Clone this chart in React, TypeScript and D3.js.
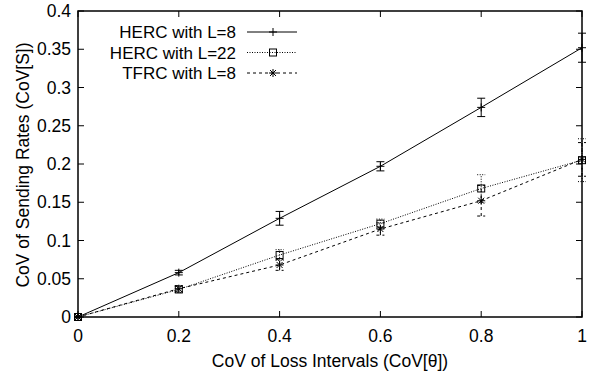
import { useRef, useEffect } from 'react';
import * as d3 from 'd3';

const xValues = [0, 0.2, 0.4, 0.6, 0.8, 1];
const hercL8 = [0, 0.058, 0.129, 0.197, 0.274, 0.352];
const hercL8Err = [0.001, 0.003, 0.009, 0.006, 0.012, 0.019];
const hercL22 = [0, 0.036, 0.081, 0.122, 0.168, 0.205];
const hercL22Err = [0.001, 0.004, 0.007, 0.006, 0.018, 0.028];
const tfrcL8 = [0, 0.037, 0.068, 0.115, 0.152, 0.206];
const tfrcL8Err = [0.001, 0.004, 0.007, 0.008, 0.02, 0.022];
const seriesNames = ['HERC with L=8', 'HERC with L=22', 'TFRC with L=8'];
const xTicks = [0, 0.2, 0.4, 0.6, 0.8, 1];
const yTicks = [0, 0.05, 0.1, 0.15, 0.2, 0.25, 0.3, 0.35, 0.4];

type Marker = 'plus' | 'square' | 'star';

export default function App() {
    const svgRef = useRef<SVGSVGElement>(null);

    useEffect(() => {
        if (!svgRef.current) return;
        const width = 597;
        const height = 378;
        const left = 78, right = 582, top = 11, bottom = 317;

        d3.select(svgRef.current).selectAll('*').remove();
        const svg = d3.select(svgRef.current)
            .attr('width', width)
            .attr('height', height)
            .style('font-family', '"Liberation Sans", Arial, sans-serif');

        svg.append('rect').attr('width', width).attr('height', height).attr('fill', '#fff');

        const x = d3.scaleLinear().domain([0, 1]).range([left, right]);
        const y = d3.scaleLinear().domain([0, 0.4]).range([bottom, top]);

        const fmt = (v: number) => (v === 0 ? '0' : String(+v.toFixed(2)));

        // ticks (inward, mirrored)
        const ticks = svg.append('g').attr('stroke', '#000').attr('stroke-width', 1);
        xTicks.forEach(t => {
            ticks.append('line').attr('x1', x(t)).attr('x2', x(t)).attr('y1', bottom).attr('y2', bottom - 6);
            ticks.append('line').attr('x1', x(t)).attr('x2', x(t)).attr('y1', top).attr('y2', top + 6);
            svg.append('text').attr('x', x(t)).attr('y', bottom + 25)
                .attr('text-anchor', 'middle').style('font-size', '17.5px').text(fmt(t));
        });
        yTicks.forEach(t => {
            ticks.append('line').attr('x1', left).attr('x2', left + 6).attr('y1', y(t)).attr('y2', y(t));
            ticks.append('line').attr('x1', right).attr('x2', right - 6).attr('y1', y(t)).attr('y2', y(t));
            svg.append('text').attr('x', left - 7).attr('y', y(t) + 6)
                .attr('text-anchor', 'end').style('font-size', '17.5px').text(fmt(t));
        });

        // axis titles
        svg.append('text').attr('x', (left + right) / 2).attr('y', 367)
            .attr('text-anchor', 'middle').style('font-size', '17.5px')
            .text('CoV of Loss Intervals (CoV[θ])');
        svg.append('text')
            .attr('transform', `translate(28.5, ${(top + bottom) / 2 + 1}) rotate(-90)`)
            .attr('text-anchor', 'middle').style('font-size', '17.5px')
            .text('CoV of Sending Rates (CoV[S])');

        const drawMarker = (g: d3.Selection<SVGGElement, unknown, null, undefined>, m: Marker, cx: number, cy: number) => {
            const s = 4;
            if (m === 'plus' || m === 'star') {
                g.append('line').attr('x1', cx - s).attr('x2', cx + s).attr('y1', cy).attr('y2', cy);
                g.append('line').attr('x1', cx).attr('x2', cx).attr('y1', cy - s).attr('y2', cy + s);
            }
            if (m === 'star') {
                g.append('line').attr('x1', cx - s * 0.75).attr('x2', cx + s * 0.75).attr('y1', cy - s * 0.75).attr('y2', cy + s * 0.75);
                g.append('line').attr('x1', cx - s * 0.75).attr('x2', cx + s * 0.75).attr('y1', cy + s * 0.75).attr('y2', cy - s * 0.75);
            }
            if (m === 'square') {
                g.append('rect').attr('x', cx - 3.5).attr('y', cy - 3.5).attr('width', 7).attr('height', 7)
                    .attr('fill', 'none');
            }
        };

        const series = [
            { name: seriesNames[0], values: hercL8, err: hercL8Err, dash: null as string | null, marker: 'plus' as Marker },
            { name: seriesNames[1], values: hercL22, err: hercL22Err, dash: '1,1.5', marker: 'square' as Marker },
            { name: seriesNames[2], values: tfrcL8, err: tfrcL8Err, dash: '3,3', marker: 'star' as Marker },
        ];

        const line = d3.line<number>().x((_, i) => x(xValues[i])).y(d => y(d));

        series.forEach((s, si) => {
            const g = svg.append('g').attr('stroke', '#000').attr('stroke-width', 1).attr('fill', 'none');
            g.append('path').attr('d', line(s.values)).attr('stroke-dasharray', s.dash);
            // error bars
            s.values.forEach((v, i) => {
                const cx = x(xValues[i]);
                const y1 = y(v - s.err[i]);
                const y2 = y(v + s.err[i]);
                const eb = g.append('g').attr('stroke-dasharray', s.dash);
                eb.append('line').attr('x1', cx).attr('x2', cx).attr('y1', y1).attr('y2', y2);
                eb.append('line').attr('x1', cx - 4).attr('x2', cx + 4).attr('y1', y1).attr('y2', y1);
                eb.append('line').attr('x1', cx - 4).attr('x2', cx + 4).attr('y1', y2).attr('y2', y2);
                drawMarker(g, s.marker, cx, y(v));
            });

            // legend
            const ly = 32 + si * 20.5;
            svg.append('text').attr('x', 236).attr('y', ly + 6).attr('text-anchor', 'end')
                .style('font-size', '17px').text(s.name);
            g.append('line').attr('x1', 247).attr('x2', 297).attr('y1', ly).attr('y2', ly)
                .attr('stroke-dasharray', s.dash);
            drawMarker(g, s.marker, 273, ly);
        });

        // frame
        svg.append('rect').attr('x', left).attr('y', top).attr('width', right - left).attr('height', bottom - top)
            .attr('fill', 'none').attr('stroke', '#000').attr('stroke-width', 1.5);
    }, []);

    return (
        <div style={{ position: 'absolute', left: 0, top: 0 }}>
            <svg ref={svgRef}></svg>
        </div>
    );
}
